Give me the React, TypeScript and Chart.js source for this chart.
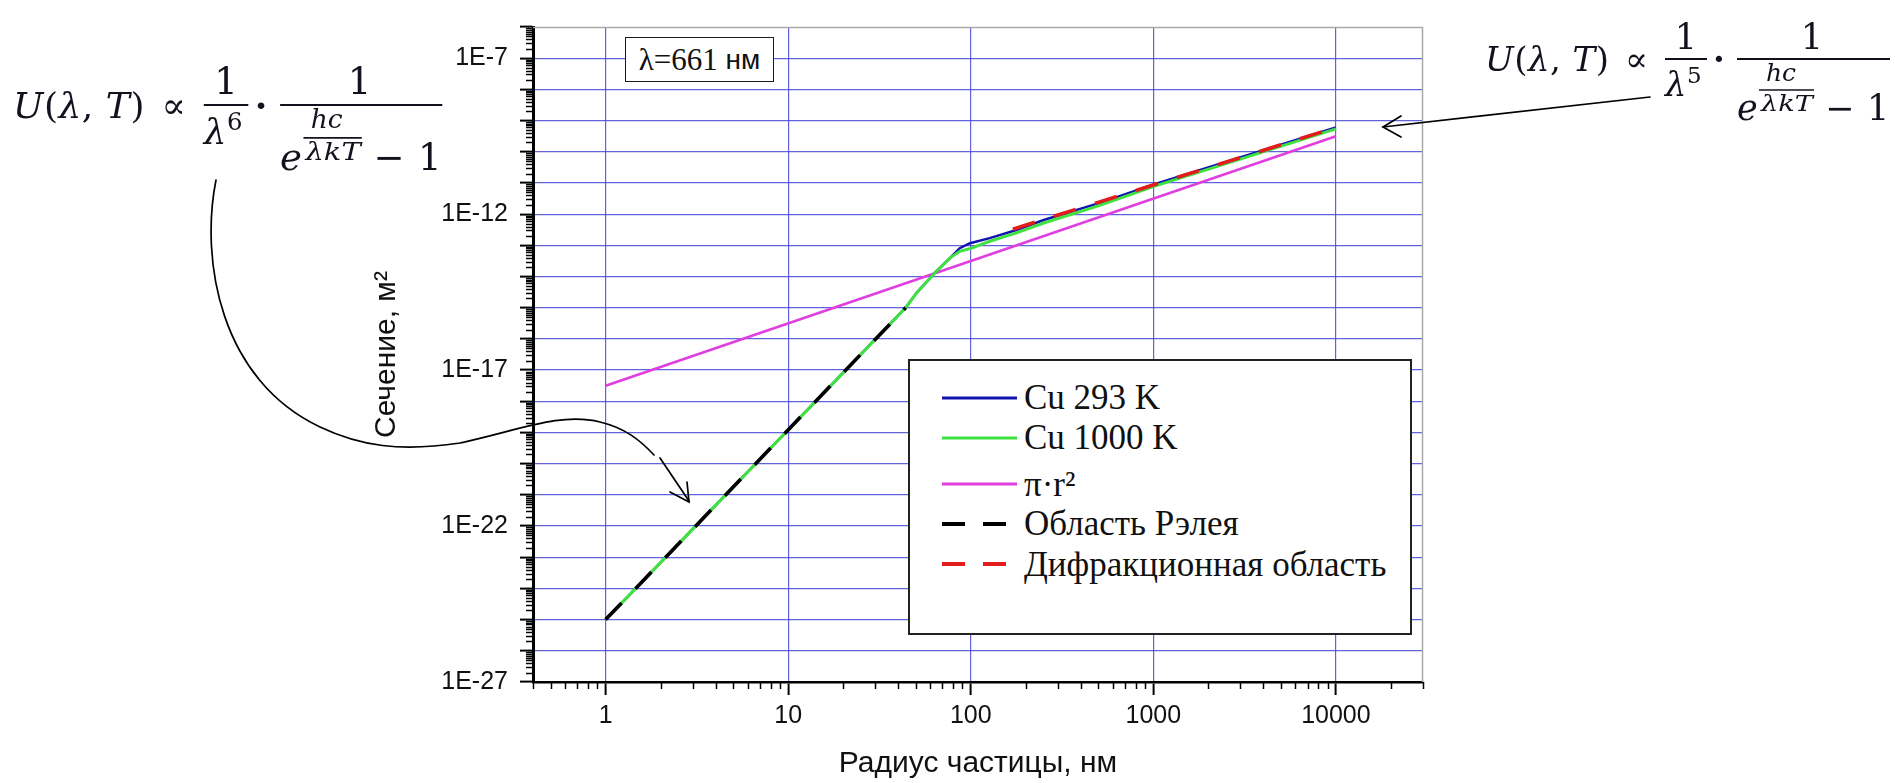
import React, { useEffect, useRef } from "react";
import { Chart, registerables } from "chart.js";

Chart.register(...registerables);

// ---------------- data: radius (nm) -> cross-section (m²) ----------------
const cu293Radius = [1, 44, 50.5, 63.5, 76.8, 87, 99, 127, 178, 251, 509, 1007, 10000];
const cu293Section = [1e-25, 1e-15, 3.0e-15, 1.3e-14, 3.9e-14, 8.1e-14, 1.17e-13, 1.7e-13, 3.1e-13, 6.5e-13, 2.3e-12, 9.0e-12, 6.0e-10];

const cu1000Radius = [1, 44, 50.5, 63.5, 76.8, 87, 101, 127, 178, 251, 509, 1007, 10000];
const cu1000Section = [1e-25, 1e-15, 3.0e-15, 1.3e-14, 3.9e-14, 6.4e-14, 8.1e-14, 1.35e-13, 2.5e-13, 5.2e-13, 1.9e-12, 7.8e-12, 5.4e-10];

const geomRadius = [1, 10000];
const geomSection = [3.14e-18, 3.14e-10];

const rayleighRadius = [1, 44];
const rayleighSection = [1.0e-25, 1.0e-15];

const diffrRadius = [170, 10000];
const diffrSection = [3.3e-13, 6.0e-10];

const seriesLabels = ["Cu 293 K", "Cu 1000 K", "π·r²", "Область Рэлея", "Дифракционная область"];

const xMajorTicks = [1, 10, 100, 1000, 10000];
const xTickLabels = ["1", "10", "100", "1000", "10000"];
const yLabelledExponents = [-27, -22, -17, -12, -7];
const yTickLabels = ["1E-27", "1E-22", "1E-17", "1E-12", "1E-7"];

const X_MIN = 0.4;
const X_MAX = 30000;
const Y_MIN_EXP = -27;
const Y_MAX_EXP = -6;

const xTitle = "Радиус частицы, нм";
const yTitle = "Сечение, м²";
const wavelengthNote = "λ=661";
const wavelengthUnit = " нм";

// ---------------- styles ----------------
const seriesStyles = [
  { color: "#1212b0", width: 2.5, dash: [] as number[], order: 5 },
  { color: "#3fe23f", width: 3, dash: [] as number[], order: 3 },
  { color: "#e03ee0", width: 2.6, dash: [] as number[], order: 6 },
  { color: "#000000", width: 3.6, dash: [23, 20], order: 1 },
  { color: "#e21c1c", width: 3.6, dash: [23, 20], order: 2 },
];

const W = 1895;
const H = 783;
const SANS = "'Liberation Sans', Arial, sans-serif";
const SERIF = "'Liberation Serif', 'Times New Roman', serif";
const GRID_BLUE = "rgba(70,70,215,0.85)";

function toPoints(r: number[], s: number[]) {
  return r.map((v, i) => ({ x: v, y: s[i] }));
}

const minorTicksPlugin = {
  id: "minorTicks",
  afterDraw(chart: any) {
    const { ctx, chartArea } = chart;
    const xs = chart.scales.x;
    const ys = chart.scales.y;
    ctx.save();
    ctx.strokeStyle = "#a9a9a9";
    ctx.lineWidth = 1.5;
    ctx.beginPath();
    ctx.moveTo(chartArea.left, chartArea.top + 0.5);
    ctx.lineTo(chartArea.right - 0.5, chartArea.top + 0.5);
    ctx.lineTo(chartArea.right - 0.5, chartArea.bottom);
    ctx.stroke();
    ctx.strokeStyle = "#000";
    ctx.lineWidth = 1.5;
    ctx.beginPath();
    for (let d = Y_MIN_EXP; d < Y_MAX_EXP; d++) {
      for (let k = 2; k <= 9; k++) {
        const py = Math.round(ys.getPixelForValue(k * Math.pow(10, d))) + 0.5;
        ctx.moveTo(chartArea.left - 7, py);
        ctx.lineTo(chartArea.left, py);
      }
    }
    for (let d = -1; d <= 4; d++) {
      for (let k = 2; k <= 9; k++) {
        const v = k * Math.pow(10, d);
        if (v < X_MIN * 0.999 || v > X_MAX * 1.001) continue;
        const px = Math.round(xs.getPixelForValue(v)) + 0.5;
        ctx.moveTo(px, chartArea.bottom);
        ctx.lineTo(px, chartArea.bottom + 7);
      }
    }
    ctx.stroke();
    ctx.restore();
  },
};

function Formula({ power, tx, ty, s }: { power: string; tx: number; ty: number; s: number }) {
  const ink = "#12121e";
  return (
    <g transform={`translate(${tx} ${ty}) scale(${s})`} fill={ink} fontFamily="'DejaVu Serif', serif">
      <text x={0} y={12} fontSize={34} textLength={124} lengthAdjust="spacing">
        <tspan fontStyle="italic">U</tspan>
        <tspan>{"("}</tspan>
        <tspan fontStyle="italic">λ</tspan>
        <tspan>{", "}</tspan>
        <tspan fontStyle="italic">T</tspan>
        <tspan>{")"}</tspan>
      </text>
      <text x={140} y={12} fontSize={34}>{"∝"}</text>
      <text x={201} y={-10} fontSize={35} textAnchor="middle">{"1"}</text>
      <line x1={180} y1={0} x2={222} y2={0} stroke={ink} strokeWidth={2} />
      <text x={180} y={37} fontSize={34} fontStyle="italic">{"λ"}</text>
      <text x={202} y={24} fontSize={23}>{power}</text>
      <text x={234} y={0} fontSize={34} fontWeight="bold" textAnchor="middle" dominantBaseline="central">{"·"}</text>
      <text x={327} y={-10} fontSize={35} textAnchor="middle">{"1"}</text>
      <line x1={252} y1={0} x2={405} y2={0} stroke={ink} strokeWidth={2} />
      <text x={252} y={61} fontSize={35} fontStyle="italic">{"e"}</text>
      <text x={296} y={22} fontSize={25} fontStyle="italic" textAnchor="middle">{"hc"}</text>
      <line x1={274} y1={31} x2={329} y2={31} stroke={ink} strokeWidth={1.5} />
      <text x={276} y={52} fontSize={22} fontStyle="italic" textLength={52} lengthAdjust="spacingAndGlyphs">{"λkT"}</text>
      <text x={340} y={61} fontSize={35}>{"−"}</text>
      <text x={382} y={61} fontSize={35}>{"1"}</text>
    </g>
  );
}

export default function App() {
  const canvasRef = useRef<HTMLCanvasElement>(null);

  useEffect(() => {
    const canvas = canvasRef.current;
    if (!canvas) return;
    const seriesData = [
      toPoints(cu293Radius, cu293Section),
      toPoints(cu1000Radius, cu1000Section),
      toPoints(geomRadius, geomSection),
      toPoints(rayleighRadius, rayleighSection),
      toPoints(diffrRadius, diffrSection),
    ];
    const yTickValues: number[] = [];
    for (let e = Y_MIN_EXP; e <= Y_MAX_EXP; e++) yTickValues.push(Math.pow(10, e));

    const chart = new Chart(canvas, {
      type: "line",
      data: {
        datasets: seriesData.map((d, i) => ({
          label: seriesLabels[i],
          data: d,
          borderColor: seriesStyles[i].color,
          backgroundColor: seriesStyles[i].color,
          borderWidth: seriesStyles[i].width,
          borderDash: seriesStyles[i].dash,
          borderCapStyle: "butt" as const,
          pointRadius: 0,
          pointHoverRadius: 0,
          fill: false,
          tension: 0,
          order: seriesStyles[i].order,
        })),
      },
      options: {
        responsive: false,
        animation: false,
        events: [],
        layout: { padding: { left: 355, right: W - 1423, top: 22, bottom: 0 } },
        plugins: { legend: { display: false }, tooltip: { enabled: false } },
        scales: {
          x: {
            type: "logarithmic",
            position: "bottom",
            min: X_MIN,
            max: X_MAX,
            bounds: "data",
            afterBuildTicks: (s: any) => {
              s.ticks = xMajorTicks.map((v) => ({ value: v }));
            },
            afterFit: (s: any) => {
              s.height = H - 682;
            },
            grid: {
              color: GRID_BLUE,
              lineWidth: 1.2,
              drawTicks: true,
              tickLength: 13,
              tickColor: "#000",
              tickWidth: 2,
            },
            border: { display: true, color: "#000", width: 2.6 },
            ticks: {
              autoSkip: false,
              maxRotation: 0,
              minRotation: 0,
              padding: 6,
              color: "#111",
              font: { family: SANS, size: 25 },
              callback: (v: any) => {
                const idx = xMajorTicks.findIndex((t) => Math.abs(t - Number(v)) / t < 1e-6);
                return idx >= 0 ? xTickLabels[idx] : "";
              },
            },
            title: {
              display: true,
              text: xTitle,
              color: "#111",
              font: { family: SANS, size: 30 },
              padding: { top: 0, bottom: 1 },
            },
          },
          y: {
            type: "logarithmic",
            position: "left",
            min: Math.pow(10, Y_MIN_EXP),
            max: Math.pow(10, Y_MAX_EXP),
            bounds: "data",
            afterBuildTicks: (s: any) => {
              s.ticks = yTickValues.map((v) => ({ value: v }));
            },
            afterFit: (s: any) => {
              s.width = 533 - 355;
            },
            grid: {
              color: (c: any) => {
                const v = c.tick ? c.tick.value : 0;
                return Math.round(Math.log10(v)) === Y_MAX_EXP ? "rgba(0,0,0,0)" : GRID_BLUE;
              },
              lineWidth: 1.2,
              drawTicks: true,
              tickLength: 13,
              tickColor: "#000",
              tickWidth: 2,
            },
            border: { display: true, color: "#000", width: 3 },
            ticks: {
              autoSkip: false,
              padding: 12,
              color: "#111",
              font: { family: SANS, size: 25 },
              callback: (v: any) => {
                const e = Math.round(Math.log10(Number(v)));
                const idx = yLabelledExponents.indexOf(e);
                return idx >= 0 ? yTickLabels[idx] : "";
              },
            },
            title: {
              display: true,
              text: yTitle,
              color: "#111",
              font: { family: SANS, size: 30 },
              padding: { top: 14, bottom: 0 },
            },
          },
        },
      },
      plugins: [minorTicksPlugin],
    } as any);
    return () => chart.destroy();
  }, []);

  const legendRowY = [38.7, 78.7, 125.3, 164.7, 205.3];

  return (
    <div
      style={{
        position: "absolute",
        left: 0,
        top: 0,
        width: W,
        height: H,
        background: "#fff",
        overflow: "hidden",
      }}
    >
      <canvas ref={canvasRef} width={W} height={H} style={{ position: "absolute", left: 0, top: 0 }} />

      {/* wavelength note */}
      <div
        style={{
          position: "absolute",
          left: 625,
          top: 37,
          width: 149,
          height: 45,
          boxSizing: "border-box",
          border: "1.6px solid #1a1a1a",
          background: "#fff",
          display: "flex",
          alignItems: "center",
          justifyContent: "center",
          whiteSpace: "pre",
          color: "#111",
        }}
      >
        <span style={{ fontFamily: SERIF, fontSize: 31, lineHeight: "31px" }}>{wavelengthNote}</span>
        <span style={{ fontFamily: SANS, fontSize: 28, lineHeight: "31px" }}>{wavelengthUnit}</span>
      </div>

      {/* legend */}
      <div
        style={{
          position: "absolute",
          left: 908,
          top: 359,
          width: 504,
          height: 276,
          boxSizing: "border-box",
          border: "2px solid #222",
          background: "#fff",
        }}
      >
        {seriesLabels.map((label, i) => {
          const st = seriesStyles[i];
          const dashed = st.dash.length > 0;
          return (
            <React.Fragment key={label}>
              <svg
                width={80}
                height={10}
                style={{ position: "absolute", left: 32, top: legendRowY[i] - 2 - 5 }}
              >
                <line
                  x1={0}
                  y1={5}
                  x2={dashed ? 66 : 75}
                  y2={5}
                  stroke={st.color}
                  strokeWidth={dashed ? 4 : 3}
                  strokeDasharray={dashed ? "23 18" : undefined}
                />
              </svg>
              <div
                style={{
                  position: "absolute",
                  left: 114,
                  top: legendRowY[i] - 2 - 17.5,
                  fontFamily: SERIF,
                  fontSize: 35,
                  lineHeight: "35px",
                  color: "#111",
                  whiteSpace: "nowrap",
                }}
              >
                {label}
              </div>
            </React.Fragment>
          );
        })}
      </div>

      {/* formulas and hand-drawn arrows */}
      <svg
        width={W}
        height={H}
        style={{ position: "absolute", left: 0, top: 0, pointerEvents: "none", overflow: "visible" }}
      >
        <Formula power="6" tx={13} ty={105} s={1.06} />
        <Formula power="5" tx={1485} ty={59} s={1} />
        <g fill="none" stroke="#000" strokeWidth={1.7} strokeLinecap="round">
          <path d="M 216 180 C 200 260, 220 380, 320 427 C 360 446, 400 452, 460 443 C 520 430, 560 412, 600 422 C 625 428, 640 440, 654 455" />
          <path d="M 660 458 L 689 501" />
          <path d="M 670 492 L 689 502 L 687 482" />
          <path d="M 1650 97 L 1383 127" />
          <path d="M 1401 116 L 1383 127 L 1401 137" />
        </g>
      </svg>
    </div>
  );
}
